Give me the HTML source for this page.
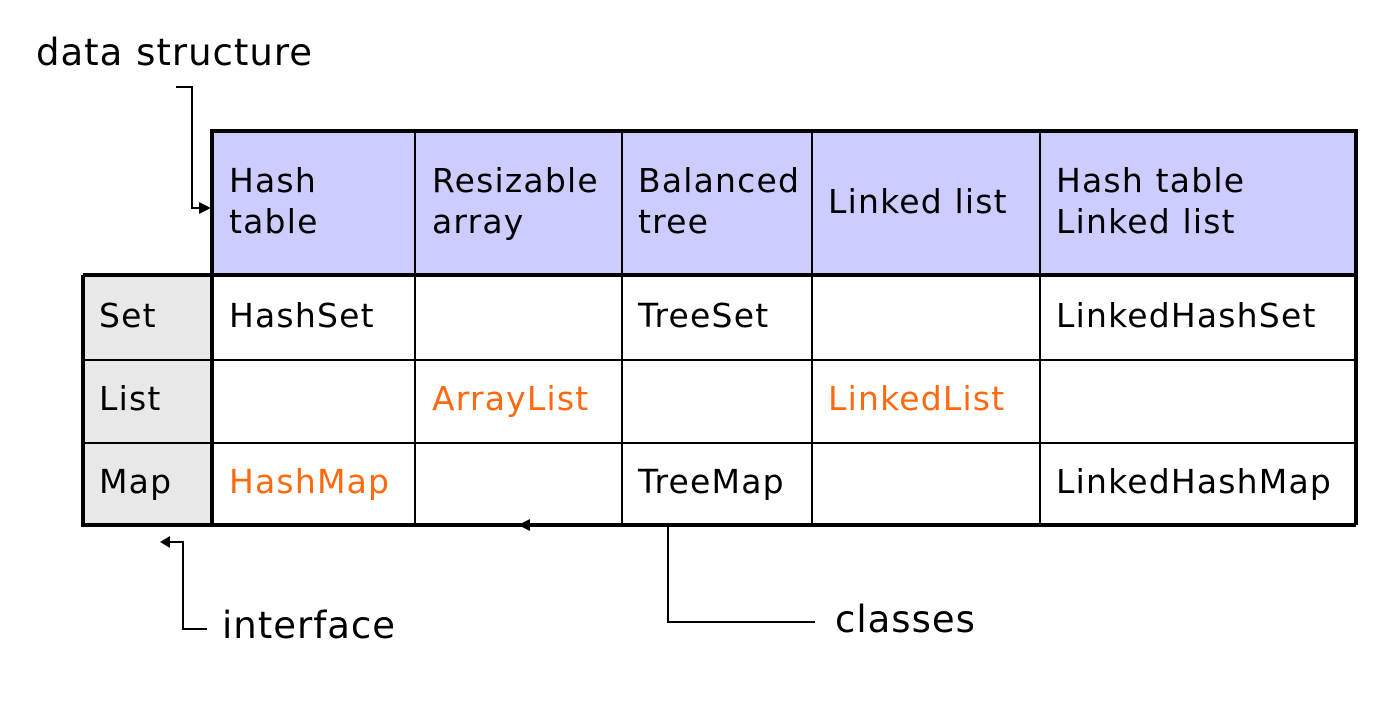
<!DOCTYPE html>
<html><head><style>
html,body{margin:0;padding:0;background:#fff;}
svg text{font-family:"DejaVu Sans","Liberation Sans",sans-serif;font-size:33px;letter-spacing:1.2px;}
svg text.big{font-size:37px;letter-spacing:1px;}
</style></head><body>
<svg width="1386" height="713" xmlns="http://www.w3.org/2000/svg">
<rect x="212" y="131" width="1144" height="144" fill="#ccccff"/>
<rect x="83" y="275" width="129" height="250" fill="#e8e8e8"/>
<g stroke="#000" stroke-width="2" fill="none">
<line x1="415" y1="131" x2="415" y2="525"/>
<line x1="622" y1="131" x2="622" y2="525"/>
<line x1="812" y1="131" x2="812" y2="525"/>
<line x1="1040" y1="131" x2="1040" y2="525"/>
<line x1="83" y1="360" x2="1356" y2="360"/>
<line x1="83" y1="443" x2="1356" y2="443"/>
</g>
<g stroke="#000" stroke-width="4" fill="none">
<polyline points="212,525 212,131 1356,131 1356,525"/>
<line x1="83" y1="275" x2="1356" y2="275"/>
<polyline points="83,275 83,525 1356,525"/>
</g>
<g stroke="#000" stroke-width="2" fill="none">
<polyline points="176,87 192,87 192,208 200,208"/>
<polyline points="168,542 183,542 183,629 207,629"/>
<polyline points="668,525 668,622 815,622"/>
</g>
<polygon points="211,208 199,202 199,214" fill="#000"/>
<polygon points="160,542 170,536 170,548" fill="#000"/>
<polygon points="518,525 530,519 530,531" fill="#000"/>
<text class="big" x="36" y="65">data structure</text>
<text class="big" x="222" y="638">interface</text>
<text class="big" x="835" y="632">classes</text>
<text x="229" y="192">Hash</text><text x="229" y="233">table</text>
<text x="432" y="192">Resizable</text><text x="432" y="233">array</text>
<text x="638" y="192">Balanced</text><text x="638" y="233">tree</text>
<text x="828" y="213">Linked list</text>
<text x="1056" y="192">Hash table</text><text x="1056" y="233">Linked list</text>
<text x="99" y="327">Set</text>
<text x="99" y="410">List</text>
<text x="99" y="493">Map</text>
<text x="229" y="327">HashSet</text>
<text x="638" y="327">TreeSet</text>
<text x="1056" y="327">LinkedHashSet</text>
<text x="432" y="410" fill="#ff6a10">ArrayList</text>
<text x="828" y="410" fill="#ff6a10">LinkedList</text>
<text x="229" y="493" fill="#ff6a10">HashMap</text>
<text x="638" y="493">TreeMap</text>
<text x="1056" y="493">LinkedHashMap</text>
</svg>
</body></html>
